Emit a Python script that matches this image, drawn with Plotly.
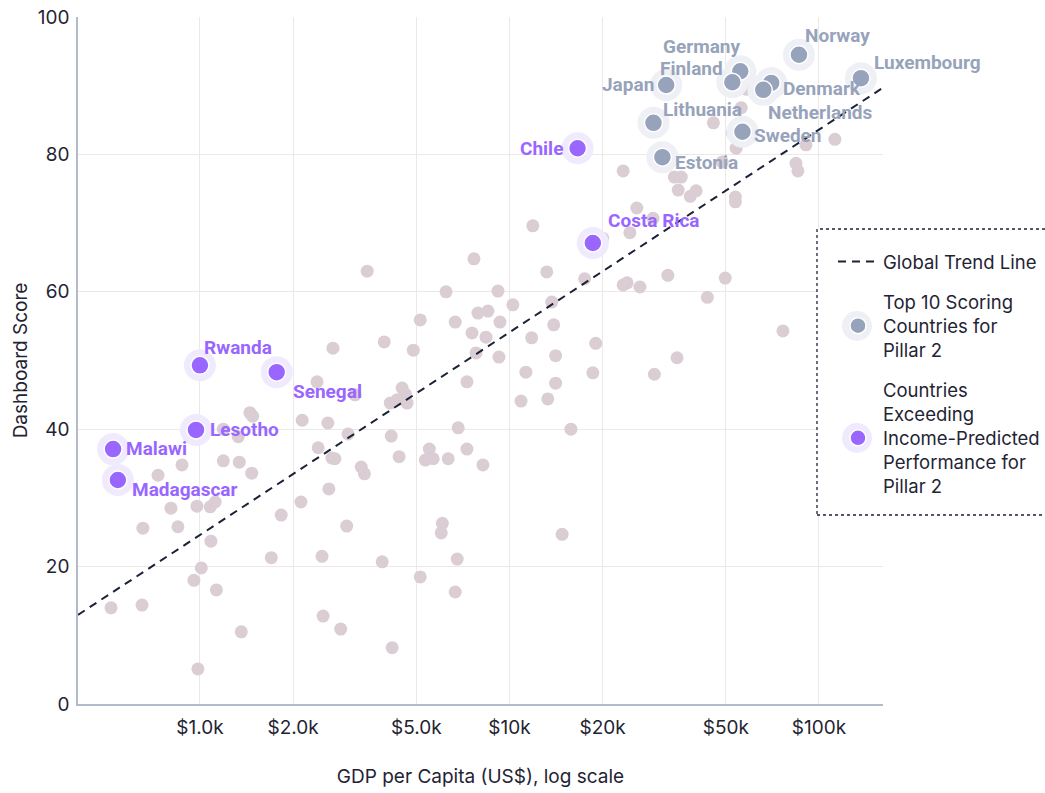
import numpy as np
import plotly.graph_objects as go

# ---------------- data ----------------
other_gdp = [23300, 34100, 35900, 35100, 38400, 40100, 53700, 53700, 25800, 29100,
             24500, 20000, 45600, 56100, 58200, 63700, 52500, 54000, 84300, 85500,
             90800, 112600, 48700, 11900, 7680, 6240, 9180, 13200, 17500, 23300,
             24000, 26400, 32500, 49800, 43600, 76500, 34800, 29400, 5150, 6680,
             7910, 8520, 10260, 9320, 13700, 7570, 8400, 13900, 2690, 3940,
             4890, 7800, 9250, 11800, 14100, 19000, 18600, 3470, 2390, 3170,
             7290, 11300, 14100, 4500, 4610, 4120, 4340, 4670, 10900, 13300,
             2140, 2590, 3010, 4150, 6830, 15800, 1450, 1480, 1190, 1330,
             2410, 2670, 2730, 1190, 1340, 1470, 875, 732, 3320, 3400,
             2610, 2120, 1830, 2980, 806, 978, 1080, 1120, 654, 849,
             1085, 1700, 2480, 3880, 6780, 1010, 956, 1130, 5150, 6680,
             516, 650, 2500, 2850, 4180, 1360, 985, 4400, 5510, 5350,
             5670, 6340, 8210, 7290, 6070, 6020, 14800]
other_score = [77.6, 76.7, 76.7, 74.8, 73.9, 74.7, 73.8, 73.1, 72.2, 70.7,
               68.6, 67.8, 84.6, 86.8, 89.5, 90.4, 83.1, 80.9, 78.7, 77.6,
               81.4, 82.2, 78.9, 69.6, 64.8, 60.0, 60.1, 62.9, 61.9, 61.0,
               61.3, 60.7, 62.4, 62.0, 59.2, 54.3, 50.4, 48.0, 55.9, 55.6,
               56.9, 57.2, 58.1, 55.6, 58.5, 54.0, 53.4, 55.2, 51.8, 52.7,
               51.5, 51.1, 50.5, 53.3, 50.7, 52.5, 48.2, 63.0, 46.9, 45.0,
               46.9, 48.3, 46.7, 46.0, 45.1, 43.8, 44.3, 43.8, 44.1, 44.4,
               41.3, 40.9, 39.3, 39.0, 40.2, 40.0, 42.4, 41.9, 40.0, 38.9,
               37.3, 35.8, 35.7, 35.4, 35.2, 33.6, 34.8, 33.3, 34.5, 33.5,
               31.3, 29.4, 27.5, 25.9, 28.5, 28.8, 28.7, 29.4, 25.6, 25.8,
               23.7, 21.3, 21.5, 20.7, 21.1, 19.8, 18.0, 16.6, 18.5, 16.3,
               14.0, 14.4, 12.8, 10.9, 8.2, 10.5, 5.1, 36.0, 37.1, 35.5,
               35.7, 35.7, 34.8, 37.1, 26.3, 24.9, 24.7]

top_names = ["Norway", "Luxembourg", "Germany", "Finland", "Japan",
             "Denmark", "Netherlands", "Lithuania", "Sweden", "Estonia"]
top_gdp = [86200, 136700, 55700, 52500, 32100, 70100, 66100, 29200, 56600, 31200]
top_score = [94.5, 91.1, 92.1, 90.5, 90.1, 90.4, 89.4, 84.6, 83.3, 79.6]

exc_names = ["Chile", "Costa Rica", "Rwanda", "Senegal", "Lesotho", "Malawi", "Madagascar"]
exc_gdp = [16600, 18600, 1000, 1770, 971, 524, 543]
exc_score = [80.9, 67.1, 49.3, 48.3, 39.9, 37.1, 32.6]

# global trend line: score = a + b * (log10(gdp) - 3)
trend_at_1k = 24.6
trend_per_decade = 29.5

x_tick_vals = [1000, 2000, 5000, 10000, 20000, 50000, 100000]
x_tick_text = ["$1.0k", "$2.0k", "$5.0k", "$10k", "$20k", "$50k", "$100k"]
y_tick_vals = [0, 20, 40, 60, 80, 100]

x_log_range = [2.606, 5.207]

# label placement: (xanchor, xshift, yshift)
top_label_pos = {
    "Norway": ("left", 4, 19), "Luxembourg": ("left", 11, 16),
    "Germany": ("right", 2, 25), "Finland": ("right", -7, 14),
    "Japan": ("right", -10, 1), "Denmark": ("left", 10, -6),
    "Netherlands": ("left", 3, -23), "Lithuania": ("left", 8, 13),
    "Sweden": ("left", 10, -4), "Estonia": ("left", 11, -5),
}
exc_label_pos = {
    "Chile": ("right", -13, 0), "Costa Rica": ("left", 13, 23),
    "Rwanda": ("left", 2, 18), "Senegal": ("left", 14, -19),
    "Lesotho": ("left", 12, 0), "Malawi": ("left", 11, 1),
    "Madagascar": ("left", 12, -9),
}

# ---------------- styling ----------------
C_OTHER = "#dacdd3"
C_TOP = "#97a3bb"
C_TOP_HALO = "#eef0f5"
C_EXC = "#9966ff"
C_EXC_HALO = "#f0eafe"
C_TREND = "#1b2236"
C_GRID = "#ece8e5"
C_AXIS = "#b3bac9"
C_TEXT = "#1f2433"
FONT = "Inter"
LABEL_FONT = "Roboto"

# page -> paper helpers (plot area: x 78..883, y 17..704 on the page)
def px(sx):
    return (sx - 78) / 805

def py(sy):
    return (704 - sy) / 687

fig = go.Figure()

fig.add_trace(go.Scatter(
    x=other_gdp, y=other_score, mode="markers",
    marker=dict(size=13, color=C_OTHER, line=dict(width=0)),
    showlegend=False, hoverinfo="skip"))

tx = 10 ** np.linspace(x_log_range[0], x_log_range[1], 50)
ty = trend_at_1k + trend_per_decade * (np.log10(tx) - 3)
fig.add_trace(go.Scatter(
    x=tx, y=ty, mode="lines", name="Global Trend Line",
    line=dict(color=C_TREND, width=2, dash="8px,6px"),
    legendgroup="a", hoverinfo="skip"))

fig.add_trace(go.Scatter(
    x=top_gdp, y=top_score, mode="markers",
    marker=dict(size=32, color=C_TOP_HALO), showlegend=False, hoverinfo="skip"))
fig.add_trace(go.Scatter(
    x=exc_gdp, y=exc_score, mode="markers",
    marker=dict(size=32, color=C_EXC_HALO), showlegend=False, hoverinfo="skip"))

fig.add_trace(go.Scatter(
    x=top_gdp, y=top_score, mode="markers", text=top_names,
    name="Top 10 Scoring<br>Countries for<br>Pillar 2", legendgroup="b",
    marker=dict(size=18, color=C_TOP, line=dict(color="white", width=1.5))))
fig.add_trace(go.Scatter(
    x=exc_gdp, y=exc_score, mode="markers", text=exc_names,
    name="Countries<br>Exceeding<br>Income-Predicted<br>Performance for<br>Pillar 2",
    legendgroup="c",
    marker=dict(size=18, color=C_EXC, line=dict(color="white", width=1.5))))

annotations = []
for names, gdps, scores, pos, col in [
        (top_names, top_gdp, top_score, top_label_pos, C_TOP),
        (exc_names, exc_gdp, exc_score, exc_label_pos, C_EXC)]:
    for n, g, s in zip(names, gdps, scores):
        xa, xs, ys = pos[n]
        annotations.append(dict(
            x=np.log10(g), y=s, xref="x", yref="y", text=n, showarrow=False,
            xanchor=xa, yanchor="middle", xshift=xs, yshift=ys,
            font=dict(family=LABEL_FONT, size=19, color=col, weight="bold")))

# legend box (dashed) drawn as a shape under the legend
shapes = [dict(type="rect", xref="paper", yref="paper",
               x0=px(817), x1=px(1070), y0=py(515), y1=py(229),
               line=dict(color=C_TREND, width=1.3, dash="3px,3px"),
               fillcolor="white", layer="above")]
for sy, hc in [(326, C_TOP_HALO), (438, C_EXC_HALO)]:
    shapes.append(dict(type="circle", xref="paper", yref="paper",
                       xsizemode="pixel", ysizemode="pixel",
                       xanchor=px(857), yanchor=py(sy),
                       x0=-15, x1=15, y0=-15, y1=15,
                       fillcolor=hc, line=dict(width=0), layer="above"))

fig.update_layout(
    width=1060, height=793,
    margin=dict(l=78, r=177, t=17, b=89),
    paper_bgcolor="white", plot_bgcolor="white",
    font=dict(family=FONT, size=19, color=C_TEXT),
    showlegend=True,
    legend=dict(x=px(833), y=py(243), xanchor="left", yanchor="top",
                bgcolor="rgba(0,0,0,0)", borderwidth=0,
                font=dict(family=FONT, size=18.5, color=C_TEXT),
                tracegroupgap=13, itemwidth=40),
    annotations=annotations,
    shapes=shapes,
)
fig.update_xaxes(
    type="log", range=x_log_range,
    tickvals=x_tick_vals, ticktext=x_tick_text,
    showgrid=True, gridcolor=C_GRID, gridwidth=1,
    showline=True, linecolor=C_AXIS, linewidth=1.5,
    ticks="", ticklen=0, ticklabelstandoff=5, zeroline=False,
    tickfont=dict(family=FONT, size=19, color=C_TEXT),
    title=dict(text="GDP per Capita (US$), log scale", standoff=32,
               font=dict(family=FONT, size=19, color=C_TEXT)),
    automargin=False)
fig.update_yaxes(
    range=[0, 100], tickvals=y_tick_vals,
    showgrid=True, gridcolor=C_GRID, gridwidth=1,
    showline=True, linecolor=C_AXIS, linewidth=1.5,
    ticks="", ticklen=0, ticklabelstandoff=3, zeroline=False,
    tickfont=dict(family=FONT, size=19, color=C_TEXT),
    title=dict(text="Dashboard Score", standoff=5,
               font=dict(family=FONT, size=19, color=C_TEXT)),
    automargin=False)

fig.write_html("out.html",
               config={"displayModeBar": False},
               post_script="document.body.style.margin='0';"
                           "document.body.style.overflow='hidden';")
